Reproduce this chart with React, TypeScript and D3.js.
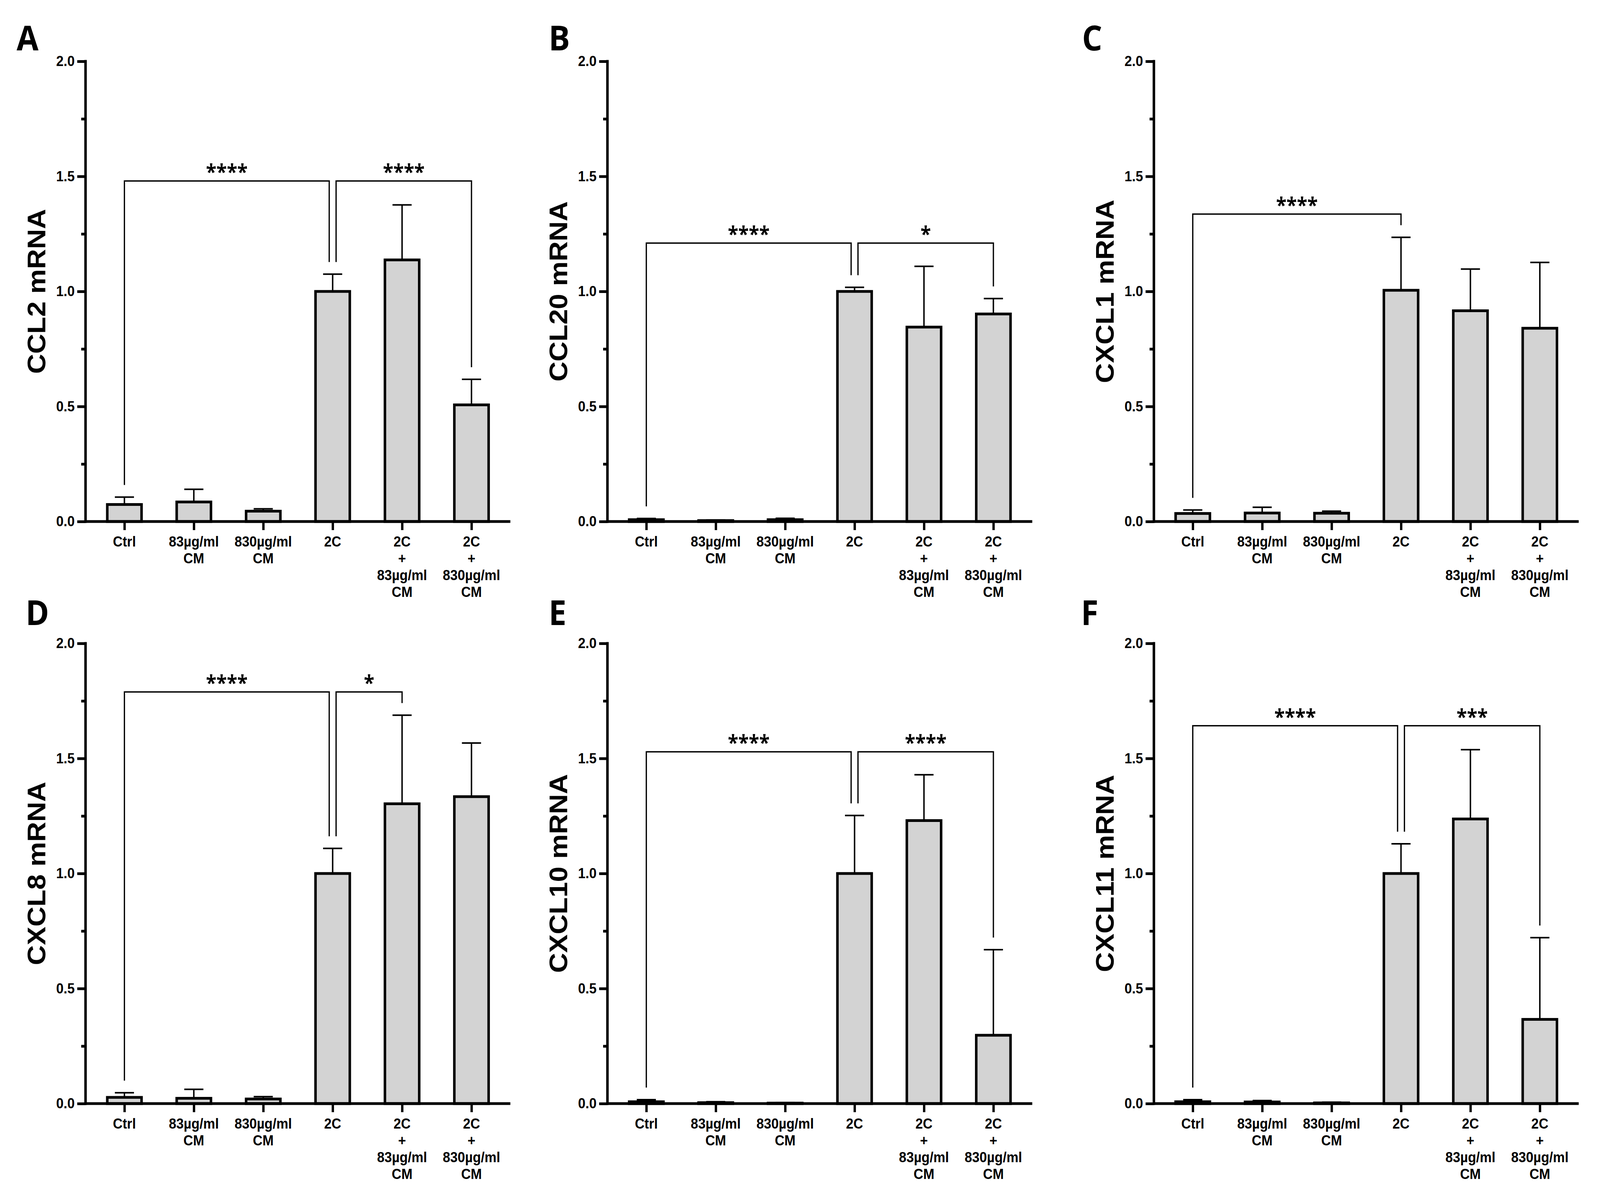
import { useEffect, useRef } from "react"
import * as d3 from "d3"

// groups on the x axis (one label line per entry)
const categories = ["Ctrl", "83CM", "830CM", "2C", "2C83CM", "2C830CM"]
const categoryLines = [
  ["Ctrl"],
  ["83µg/ml", "CM"],
  ["830µg/ml", "CM"],
  ["2C"],
  ["2C", "+", "83µg/ml", "CM"],
  ["2C", "+", "830µg/ml", "CM"],
]

const yTicks = [0, 0.5, 1, 1.5, 2]
const yMinorTicks = [0.25, 0.75, 1.25, 1.75]

const panelLetters = ["A", "B", "C", "D", "E", "F"]
const genes = ["CCL2 mRNA", "CCL20 mRNA", "CXCL1 mRNA", "CXCL8 mRNA", "CXCL10 mRNA", "CXCL11 mRNA"]

// bar heights (mean) and top of error bar (mean + SD)
const ccl2Mean = [0.074, 0.085, 0.045, 1.0, 1.137, 0.507]
const ccl2Err = [0.106, 0.14, 0.055, 1.075, 1.376, 0.618]
const ccl20Mean = [0.008, 0.004, 0.008, 1.0, 0.845, 0.902]
const ccl20Err = [0.013, 0.007, 0.014, 1.018, 1.109, 0.969]
const cxcl1Mean = [0.035, 0.037, 0.036, 1.005, 0.916, 0.84]
const cxcl1Err = [0.05, 0.062, 0.045, 1.235, 1.097, 1.126]
const cxcl8Mean = [0.027, 0.023, 0.02, 1.0, 1.303, 1.334]
const cxcl8Err = [0.047, 0.062, 0.03, 1.109, 1.688, 1.567]
const cxcl10Mean = [0.008, 0.004, 0.002, 1.0, 1.23, 0.297]
const cxcl10Err = [0.017, 0.008, 0.004, 1.252, 1.429, 0.669]
const cxcl11Mean = [0.008, 0.007, 0.003, 1.0, 1.237, 0.366]
const cxcl11Err = [0.017, 0.013, 0.006, 1.129, 1.538, 0.721]

type Sig = { from: number; to: number; y: number; label: string }

const ccl2Sig: Sig[] = [
  { from: 0, to: 3, y: 1.48, label: "****" },
  { from: 3, to: 5, y: 1.48, label: "****" },
]
const ccl20Sig: Sig[] = [
  { from: 0, to: 3, y: 1.21, label: "****" },
  { from: 3, to: 5, y: 1.21, label: "*" },
]
const cxcl1Sig: Sig[] = [{ from: 0, to: 3, y: 1.336, label: "****" }]
const cxcl8Sig: Sig[] = [
  { from: 0, to: 3, y: 1.789, label: "****" },
  { from: 3, to: 4, y: 1.789, label: "*" },
]
const cxcl10Sig: Sig[] = [
  { from: 0, to: 3, y: 1.529, label: "****" },
  { from: 3, to: 5, y: 1.529, label: "****" },
]
const cxcl11Sig: Sig[] = [
  { from: 0, to: 3, y: 1.642, label: "****" },
  { from: 3, to: 5, y: 1.642, label: "***" },
]

const means = [ccl2Mean, ccl20Mean, cxcl1Mean, cxcl8Mean, cxcl10Mean, cxcl11Mean]
const errs = [ccl2Err, ccl20Err, cxcl1Err, cxcl8Err, cxcl10Err, cxcl11Err]
const sigs = [ccl2Sig, ccl20Sig, cxcl1Sig, cxcl8Sig, cxcl10Sig, cxcl11Sig]

// layout (pixels in viewBox units)
const W = 4433
const H = 3059
const colX = [237, 1683, 3197]
const rowTop = [157, 1647]
const plotW = 1177
const plotH = 1178
const letterPos = [
  [46, 129],
  [1520, 129],
  [2998, 129],
  [71, 1600],
  [1520, 1600],
  [2995, 1600],
]

const axisFont = "'Liberation Sans', Arial, sans-serif"
const markFont = "'Open Sans', 'Liberation Sans', sans-serif"

export default function App() {
  const svgRef = useRef<SVGSVGElement>(null)

  useEffect(() => {
    document.body.style.margin = "0"
    document.documentElement.style.overflow = "hidden"
    if (!svgRef.current) return
    const svg = d3.select(svgRef.current)
    svg.selectAll("*").remove()

    svg.append("rect").attr("width", W).attr("height", H).attr("fill", "#fff")

    const x = d3.scalePoint<string>().domain(categories).range([0, plotW]).padding(0.56)
    const y = d3.scaleLinear().domain([0, 2]).range([plotH, 0])
    const bw = 95
    const capW = 53
    const legGap = 31
    const shift = 9.5

    genes.forEach((gene, i) => {
      const col = i % 3
      const row = Math.floor(i / 3)
      const g = svg.append("g").attr("transform", `translate(${colX[col]},${rowTop[row]})`)
      const m = means[i]
      const e = errs[i]

      // bars
      g.selectAll("rect.bar")
        .data(categories)
        .join("rect")
        .attr("class", "bar")
        .attr("x", (d) => (x(d) as number) - bw / 2)
        .attr("y", (_, k) => y(m[k]))
        .attr("width", bw)
        .attr("height", (_, k) => plotH - y(m[k]))
        .attr("fill", "#d3d3d3")
        .attr("stroke", "#000")
        .attr("stroke-width", 7)

      // error bars (upper only)
      const eb = g.selectAll("g.err").data(categories).join("g").attr("class", "err")
      eb.append("line")
        .attr("x1", (d) => x(d) as number)
        .attr("x2", (d) => x(d) as number)
        .attr("y1", (_, k) => y(m[k]))
        .attr("y2", (_, k) => y(e[k]))
        .attr("stroke", "#000")
        .attr("stroke-width", 4)
      eb.append("line")
        .attr("x1", (d) => (x(d) as number) - capW / 2)
        .attr("x2", (d) => (x(d) as number) + capW / 2)
        .attr("y1", (_, k) => y(e[k]))
        .attr("y2", (_, k) => y(e[k]))
        .attr("stroke", "#000")
        .attr("stroke-width", 4)

      // significance brackets
      const s = sigs[i]
      s.forEach((b) => {
        let xl = x(categories[b.from]) as number
        let xr = x(categories[b.to]) as number
        if (s.some((o) => o !== b && o.from === b.to)) xr -= shift
        if (s.some((o) => o !== b && o.to === b.from)) xl += shift
        const yb = y(b.y)
        const path = d3.path()
        path.moveTo(xl, y(e[b.from]) - legGap)
        path.lineTo(xl, yb)
        path.lineTo(xr, yb)
        path.lineTo(xr, y(e[b.to]) - legGap)
        g.append("path")
          .attr("d", path.toString())
          .attr("fill", "none")
          .attr("stroke", "#000")
          .attr("stroke-width", 3.5)
        g.append("text")
          .attr("x", (xl + xr) / 2)
          .attr("y", yb - 4)
          .attr("text-anchor", "middle")
          .attr("font-family", markFont)
          .attr("font-weight", "bold")
          .attr("font-size", 53)
          .text(b.label)
      })

      // y axis
      const yMajor = g.append("g").call(
        d3.axisLeft(y).tickValues(yTicks).tickSize(23).tickSizeOuter(0).tickPadding(7).tickFormat(d3.format(".1f")),
      )
      yMajor.select(".domain").remove()
      yMajor.selectAll("line").attr("stroke-width", 7)
      yMajor.attr("font-family", axisFont).attr("font-size", 37).attr("font-weight", "bold")
      yMajor.selectAll("text").attr("fill", "#000")

      const yMinor = g.append("g").call(
        d3.axisLeft(y).tickValues(yMinorTicks).tickSize(12).tickSizeOuter(0).tickFormat(() => ""),
      )
      yMinor.select(".domain").remove()
      yMinor.selectAll("line").attr("stroke-width", 7)

      g.append("line")
        .attr("x1", 0)
        .attr("x2", 0)
        .attr("y1", y(2) - 3.5)
        .attr("y2", plotH + 3.5)
        .attr("stroke", "#000")
        .attr("stroke-width", 7)

      // x axis
      const xAxis = g
        .append("g")
        .attr("transform", `translate(0,${plotH})`)
        .call(d3.axisBottom(x).tickSize(22).tickSizeOuter(0).tickFormat(() => ""))
      xAxis.select(".domain").remove()
      xAxis.selectAll("line").attr("stroke-width", 6.5)

      g.append("line")
        .attr("x1", 0)
        .attr("x2", plotW)
        .attr("y1", plotH)
        .attr("y2", plotH)
        .attr("stroke", "#000")
        .attr("stroke-width", 7)

      const labels = g
        .selectAll("text.xlab")
        .data(categories)
        .join("text")
        .attr("class", "xlab")
        .attr("text-anchor", "middle")
        .attr("font-family", axisFont)
        .attr("font-weight", "bold")
        .attr("font-size", 37)
      labels.each(function (d, k) {
        d3.select(this)
          .selectAll("tspan")
          .data(categoryLines[k])
          .join("tspan")
          .attr("x", x(d) as number)
          .attr("y", (_, j) => plotH + 64 + j * 43)
          .text((t) => t)
      })

      // y title
      g.append("text")
        .attr("transform", `translate(${-136 + 25},${plotH / 2}) rotate(-90)`)
        .attr("text-anchor", "middle")
        .attr("font-family", axisFont)
        .attr("font-weight", "bold")
        .attr("font-size", 71)
        .text(gene)

      // panel letter
      svg
        .append("text")
        .attr("x", letterPos[i][0])
        .attr("y", letterPos[i][1])
        .attr("font-family", markFont)
        .attr("font-weight", "bold")
        .attr("font-size", 88)
        .text(panelLetters[i])
    })
  }, [])

  return (
    <svg
      ref={svgRef}
      viewBox={`0 0 ${W} ${H}`}
      preserveAspectRatio="none"
      style={{
        position: "absolute",
        left: 0,
        top: 0,
        display: "block",
        width: "100vw",
        height: "100vh",
      }}
    />
  )
}
